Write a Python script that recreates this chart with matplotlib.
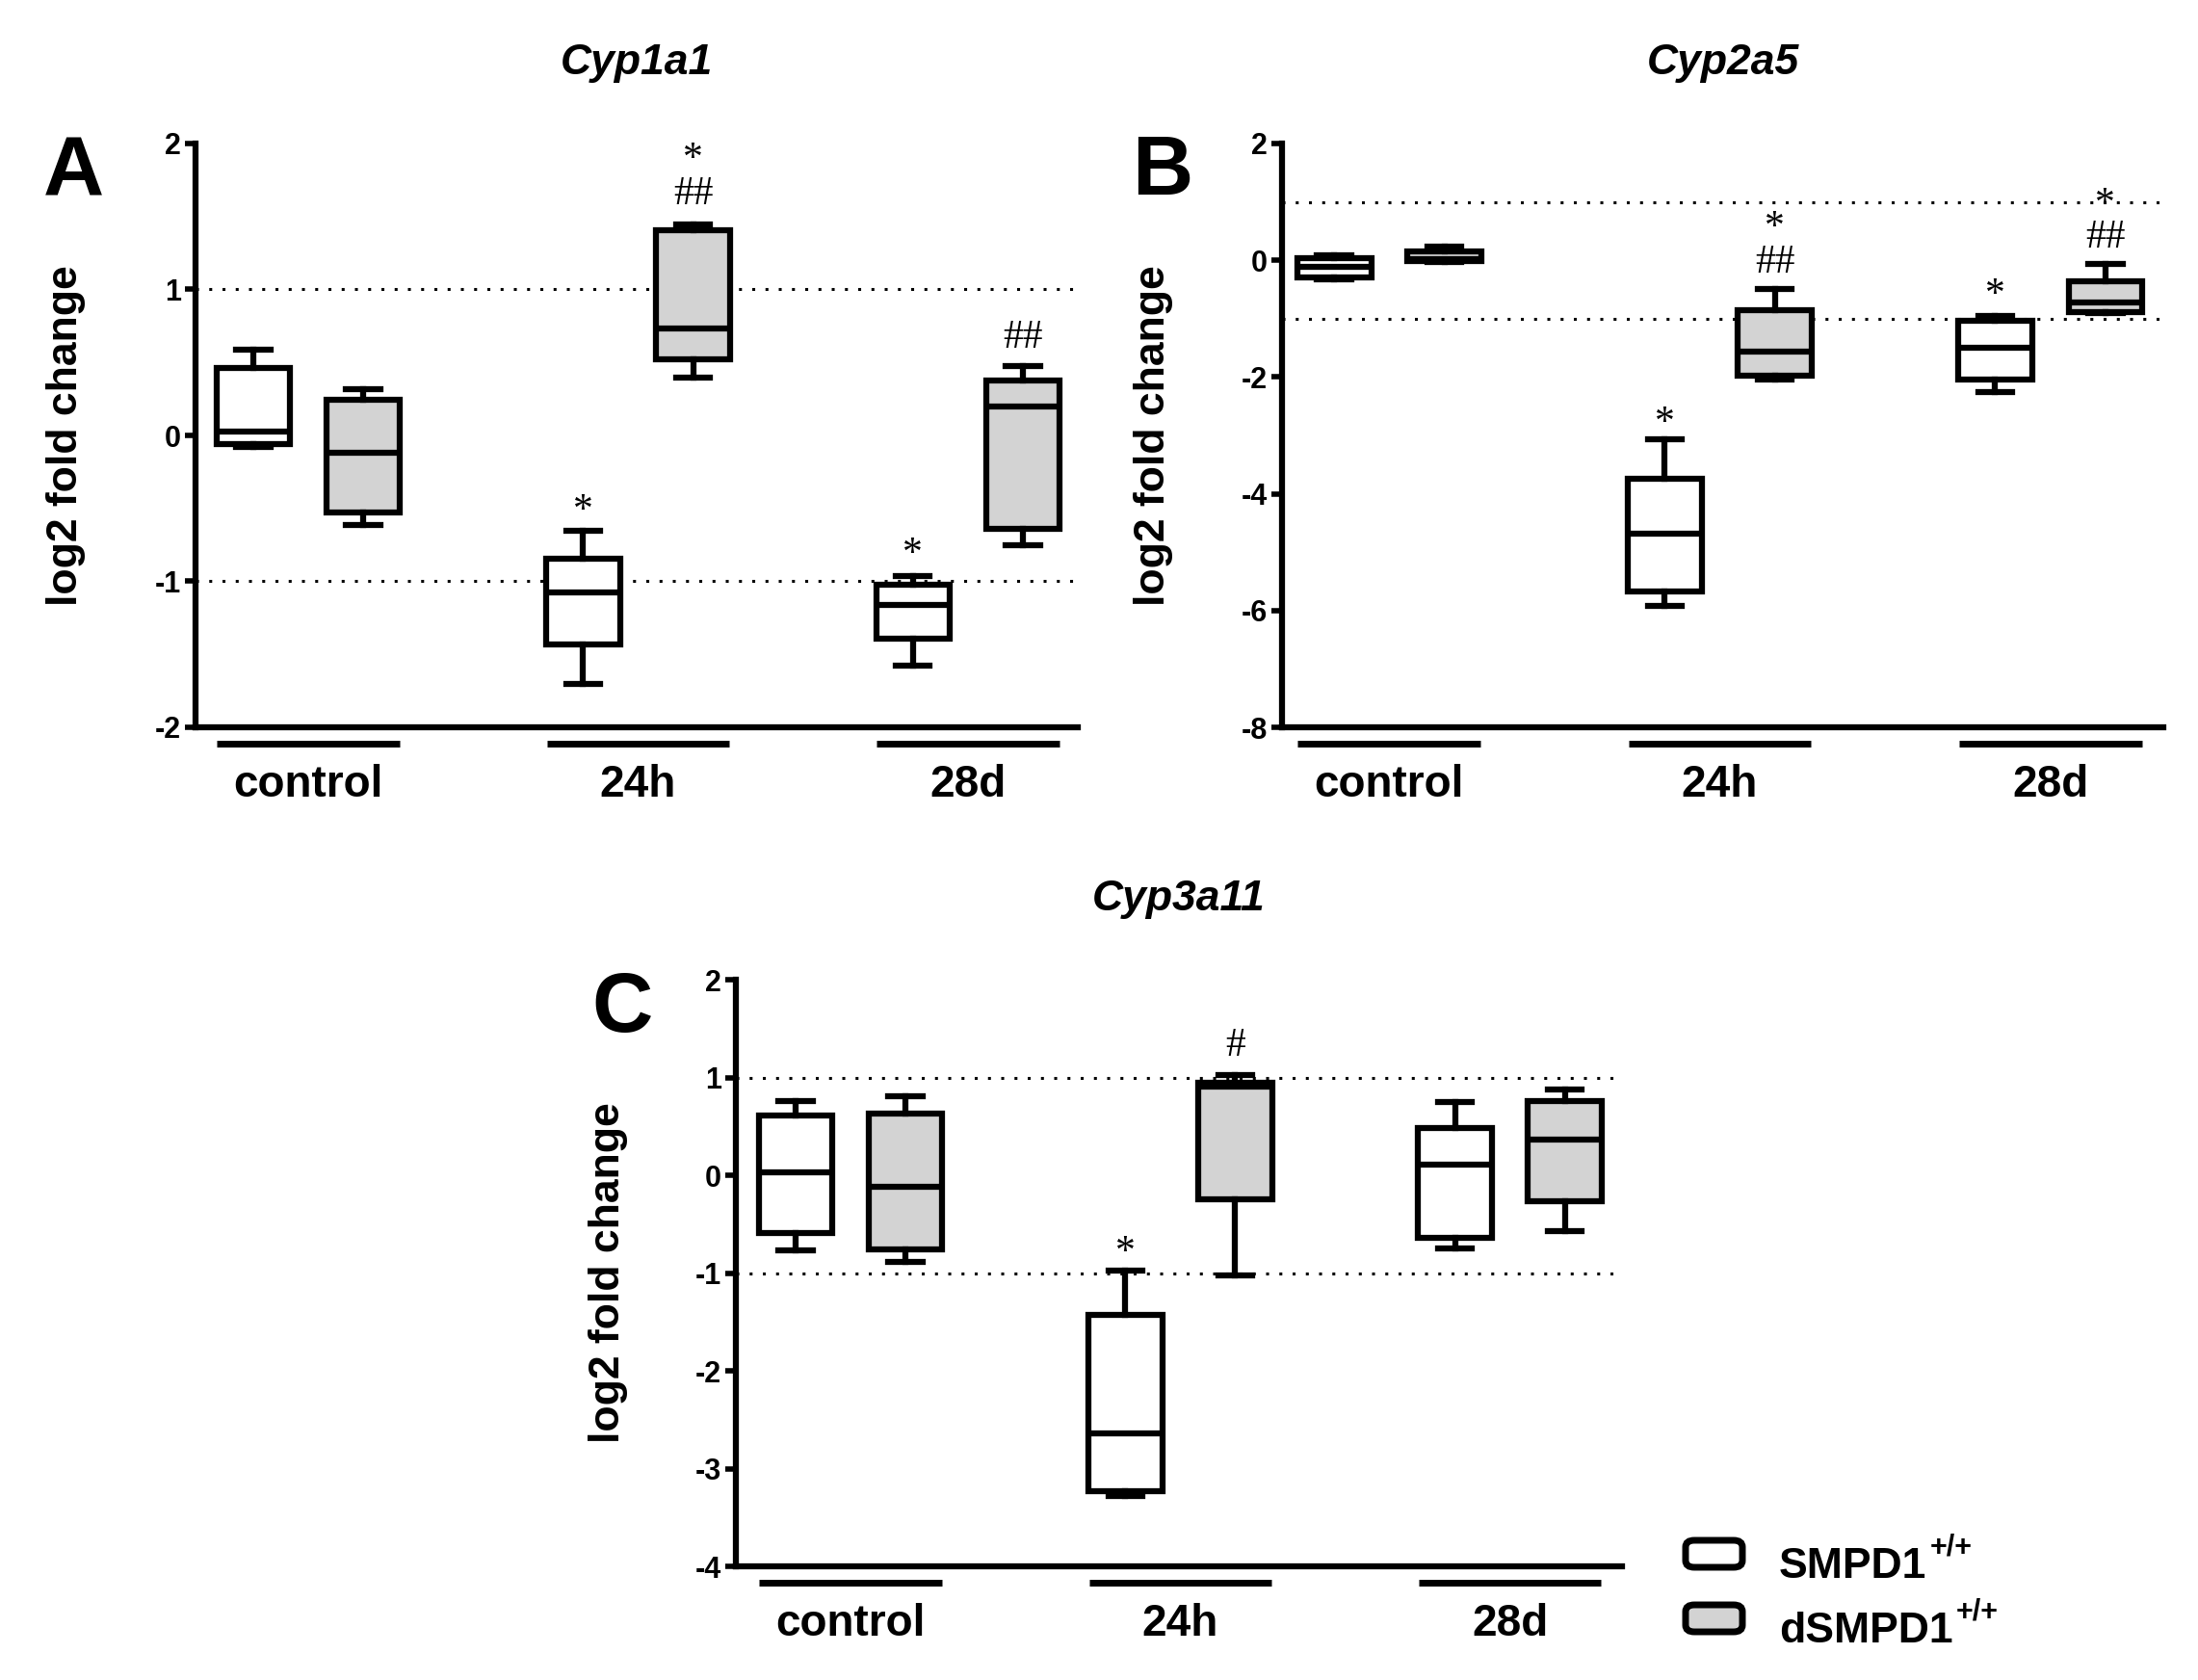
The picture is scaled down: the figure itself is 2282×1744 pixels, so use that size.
import matplotlib
matplotlib.use("Agg")
import matplotlib.pyplot as plt
from matplotlib.patches import FancyBboxPatch

plt.rcParams['font.family'] = ['Liberation Sans', 'DejaVu Sans']
plt.rcParams['font.weight'] = 'bold'
plt.rcParams['axes.unicode_minus'] = False

# box order: control S, control d, 24h S, 24h d, 28d S, 28d d
groups = ["control", "24h", "28d"]
positions = [1, 2, 4, 5, 7, 8]
fills = ["white", "#d3d3d3", "white", "#d3d3d3", "white", "#d3d3d3"]

a_lo = [-0.08, -0.615, -1.70, 0.396, -1.575, -0.75]
a_q1 = [-0.06, -0.53, -1.43, 0.524, -1.39, -0.64]
a_med = [0.026, -0.117, -1.073, 0.733, -1.165, 0.20]
a_q3 = [0.465, 0.245, -0.846, 1.403, -1.026, 0.377]
a_hi = [0.586, 0.32, -0.652, 1.447, -0.963, 0.473]
a_marks = [(4, -0.52, "*"), (5, 1.89, "*"), (5, 1.65, "##"),
           (7, -0.82, "*"), (8, 0.667, "##")]

b_lo = [-0.32, -0.03, -5.92, -2.05, -2.25, -0.90]
b_q1 = [-0.29, -0.02, -5.67, -1.98, -2.05, -0.88]
b_med = [-0.11, 0.02, -4.68, -1.56, -1.50, -0.73]
b_q3 = [0.04, 0.16, -3.75, -0.86, -1.04, -0.36]
b_hi = [0.08, 0.23, -3.06, -0.50, -0.95, -0.06]
b_marks = [(4, -2.80, "*"), (5, 0.55, "*"), (5, -0.04, "##"),
           (7, -0.60, "*"), (8, 0.95, "*"), (8, 0.38, "##")]

c_lo = [-0.77, -0.89, -3.28, -1.02, -0.745, -0.57]
c_q1 = [-0.59, -0.76, -3.23, -0.25, -0.645, -0.265]
c_med = [0.03, -0.12, -2.64, 0.91, 0.105, 0.36]
c_q3 = [0.61, 0.63, -1.43, 0.95, 0.48, 0.755]
c_hi = [0.76, 0.81, -0.98, 1.02, 0.745, 0.88]
c_marks = [(4, -0.80, "*"), (5, 1.32, "#")]

LW = 4.5

fig = plt.figure(figsize=(22.82, 17.44), dpi=100)


def panel(rect, lo, q1, med, q3, hi, marks, ylim, yticks, xlim, title, letter, letter_xy, ylab_xy, title_y):
    ax = fig.add_axes(rect)
    stats = []
    for i in range(6):
        stats.append(dict(whislo=lo[i], q1=q1[i], med=med[i], q3=q3[i], whishi=hi[i], fliers=[]))
    bp = ax.bxp(stats, positions=positions, widths=0.67, patch_artist=True,
                showfliers=False, capwidths=0.31,
                boxprops=dict(linewidth=LW, edgecolor="black"),
                medianprops=dict(linewidth=LW, color="black"),
                whiskerprops=dict(linewidth=LW, color="black"),
                capprops=dict(linewidth=LW, color="black"))
    for patch, c in zip(bp["boxes"], fills):
        patch.set_facecolor(c)
        patch.set_joinstyle("miter")
    for y in (-1, 1):
        ax.axhline(y, color="black", lw=2.2, ls=(0, (1, 3.5)), zorder=0)
    ax.set_xlim(*xlim)
    ax.set_ylim(*ylim)
    ax.set_yticks(yticks)
    ax.set_xticks([])
    for s in ("top", "right"):
        ax.spines[s].set_visible(False)
    for s in ("left", "bottom"):
        ax.spines[s].set_linewidth(LW)
    ax.tick_params(axis="y", direction="out", length=8, width=4, pad=3, labelsize=22)
    for lab in ax.get_yticklabels():
        lab.set_fontweight("bold")
    tr = ax.get_xaxis_transform()
    for g, name in enumerate(groups):
        cx = 1.5 + 3 * g
        ax.plot([cx - 0.83, cx + 0.83], [-0.028, -0.028], color="black", lw=5,
                transform=tr, clip_on=False, solid_capstyle="butt")
        ax.text(cx, -0.119, name, transform=tr, ha="center", va="baseline",
                fontsize=33, fontweight="bold")
    for x, y, t in marks:
        ax.text(x, y, t, ha="center", va="center", fontsize=30,
                family="Liberation Serif", fontweight="normal")
    fig.text((rect[0] + rect[2] / 2), title_y, title, ha="center", va="center",
             fontsize=32, fontweight="bold", style="italic")
    fig.text(letter_xy[0], letter_xy[1], letter, ha="center", va="center",
             fontsize=63, fontweight="bold")
    fig.text(ylab_xy[0], ylab_xy[1], "log2 fold change", rotation=90,
             ha="center", va="center", fontsize=32, fontweight="bold")
    return ax


W, H = 2282, 1744

panel([203 / W, 1 - 755 / H, 916 / W, 606 / H], a_lo, a_q1, a_med, a_q3, a_hi, a_marks,
      (-2, 2), [-2, -1, 0, 1, 2], (0.474, 8.5), "Cyp1a1", "A",
      (76 / W, 1 - 180 / H), (69 / W, 1 - 452 / H), 1 - 66 / H)

panel([1331 / W, 1 - 755 / H, 915 / W, 606 / H], b_lo, b_q1, b_med, b_q3, b_hi, b_marks,
      (-8, 2), [-8, -6, -4, -2, 0, 2], (0.526, 8.526), "Cyp2a5", "B",
      (1207 / W, 1 - 180 / H), (1197 / W, 1 - 452 / H), 1 - 66 / H)

panel([764 / W, 1 - 1626 / H, 920 / W, 609 / H], c_lo, c_q1, c_med, c_q3, c_hi, c_marks,
      (-4, 2), [-4, -3, -2, -1, 0, 1, 2], (0.456, 8.52), "Cyp3a11", "C",
      (646 / W, 1 - 1048 / H), (632 / W, 1 - 1321 / H), 1 - 933 / H)

# legend
legend_labels = ["SMPD1", "dSMPD1"]
legend_sup = "+/+"
legend_fills = ["white", "#d3d3d3"]
renderer = fig.canvas.get_renderer()
for i, (lab, fc) in enumerate(zip(legend_labels, legend_fills)):
    cy = 1613 + 67 * i
    box = FancyBboxPatch((1750 / W, 1 - (cy + 14) / H), 59 / W, 28 / H,
                         boxstyle="round,pad=0,rounding_size=0.004",
                         transform=fig.transFigure, facecolor=fc,
                         edgecolor="black", linewidth=5)
    fig.patches.append(box)
    t = fig.text(1847 / W, 1 - (cy + 25) / H, lab, ha="left", va="baseline",
                 fontsize=32, fontweight="bold")
    ext = t.get_window_extent(renderer)
    fig.text(ext.x1 / W + 3 / W, 1 - (cy + 1) / H, legend_sup, ha="left",
             va="baseline", fontsize=22, fontweight="bold")

fig.savefig("out.png", dpi=100, facecolor="white")
